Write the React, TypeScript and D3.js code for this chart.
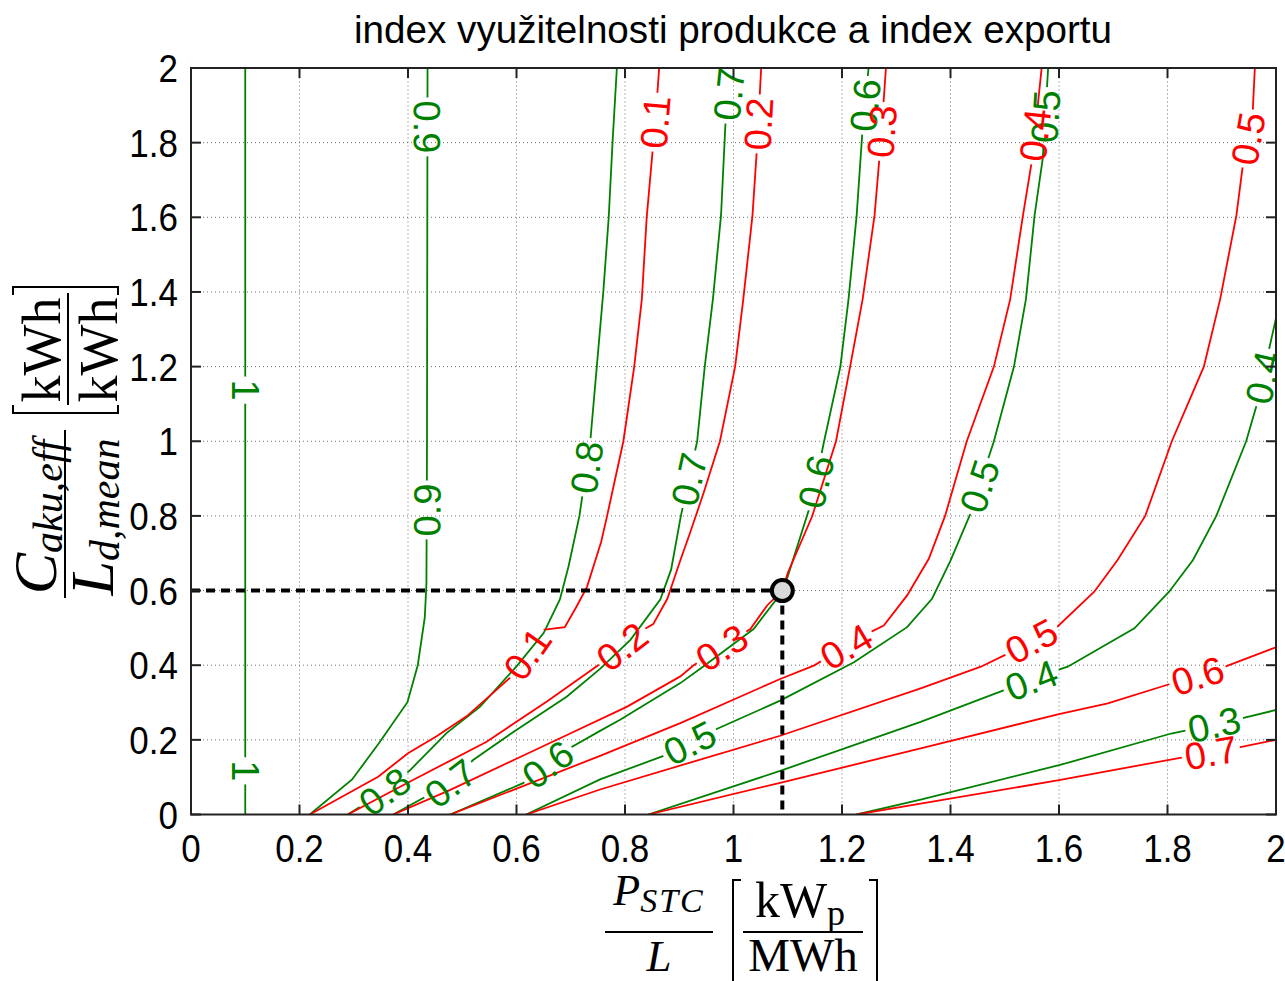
import React from "react";
import * as d3 from "d3";

const title = "index využitelnosti produkce a index exportu";
const tickValues = [0, 0.2, 0.4, 0.6, 0.8, 1, 1.2, 1.4, 1.6, 1.8, 2];
const tickLabels = ["0", "0.2", "0.4", "0.6", "0.8", "1", "1.2", "1.4", "1.6", "1.8", "2"];

// index využitelnosti produkce (green contours)
const greenLevels = ["1", "0.9", "0.8", "0.7", "0.6", "0.5", "0.4", "0.3"];
const greenCurves = [
  [[0.1, 0], [0.1, 2]],
  [[0.219, 0], [0.297, 0.094], [0.347, 0.192], [0.399, 0.301], [0.418, 0.4], [0.431, 0.529], [0.434, 0.62], [0.435, 1.0], [0.436, 2]],
  [[0.289, 0], [0.357, 0.062], [0.404, 0.119], [0.471, 0.218], [0.533, 0.289], [0.6, 0.397], [0.65, 0.486], [0.68, 0.576], [0.696, 0.665], [0.716, 0.8], [0.736, 1.0], [0.748, 1.2], [0.76, 1.4], [0.77, 1.6], [0.777, 1.8], [0.785, 2]],
  [[0.373, 0], [0.478, 0.084], [0.52, 0.146], [0.595, 0.222], [0.693, 0.316], [0.754, 0.39], [0.81, 0.468], [0.865, 0.576], [0.885, 0.656], [0.903, 0.8], [0.933, 1.0], [0.947, 1.2], [0.962, 1.38], [0.977, 1.605], [0.985, 1.846], [0.996, 2]],
  [[0.478, 0], [0.612, 0.084], [0.692, 0.173], [0.754, 0.224], [0.791, 0.254], [0.902, 0.352], [0.938, 0.39], [1.037, 0.497], [1.08, 0.578], [1.09, 0.6], [1.1, 0.638], [1.145, 0.844], [1.167, 1.0], [1.197, 1.2], [1.212, 1.38], [1.227, 1.605], [1.238, 1.838], [1.249, 2]],
  [[0.618, 0], [0.754, 0.094], [0.871, 0.157], [0.969, 0.229], [1.086, 0.305], [1.222, 0.408], [1.32, 0.502], [1.366, 0.578], [1.4, 0.68], [1.435, 0.8], [1.48, 1.0], [1.517, 1.2], [1.539, 1.38], [1.555, 1.605], [1.57, 1.757], [1.58, 2]],
  [[0.843, 0], [1.086, 0.117], [1.345, 0.248], [1.499, 0.333], [1.597, 0.387], [1.616, 0.396], [1.739, 0.499], [1.803, 0.597], [1.847, 0.682], [1.89, 0.8], [1.945, 1.0], [1.964, 1.095], [2.0, 1.33]],
  [[1.227, 0], [1.345, 0.04], [1.6, 0.132], [1.807, 0.217], [1.923, 0.253], [2.0, 0.28]],
];
// inline label spots [x, y, flip]
const greenLabels = [
  [[0.1, 0.117, 1], [0.1, 1.137, 1]],
  [[0.435, 0.816, 0], [0.436, 1.842, 1]],
  [[0.357, 0.062, 0], [0.73, 0.93, 0]],
  [[0.478, 0.084, 0], [0.918, 0.898, 0], [0.99, 1.93, 0]],
  [[0.662, 0.126, 0], [1.16, 0.889, 0], [1.243, 1.9, 0]],
  [[0.92, 0.19, 0], [1.453, 0.88, 0], [1.576, 1.87, 0]],
  [[1.549, 0.36, 0], [1.978, 1.17, 0]],
  [[1.887, 0.235, 0]],
];

// index exportu (red contours)
const redLevels = ["0.1", "0.2", "0.3", "0.4", "0.5", "0.6", "0.7"];
const redCurves = [
  [[0.219, 0], [0.29, 0.057], [0.345, 0.101], [0.4, 0.164], [0.452, 0.209], [0.508, 0.263], [0.563, 0.334], [0.594, 0.374], [0.649, 0.495], [0.689, 0.502], [0.711, 0.558], [0.73, 0.61], [0.756, 0.73], [0.767, 0.8], [0.797, 1.0], [0.817, 1.2], [0.831, 1.38], [0.84, 1.6], [0.851, 1.78], [0.859, 1.92], [0.863, 2]],
  [[0.289, 0], [0.41, 0.093], [0.545, 0.195], [0.656, 0.303], [0.748, 0.397], [0.834, 0.495], [0.852, 0.51], [0.878, 0.578], [0.903, 0.685], [0.92, 0.755], [0.945, 0.862], [0.975, 1.0], [1.003, 1.2], [1.018, 1.38], [1.035, 1.605], [1.043, 1.78], [1.051, 2]],
  [[0.373, 0], [0.478, 0.066], [0.595, 0.146], [0.693, 0.213], [0.804, 0.289], [0.902, 0.37], [0.926, 0.399], [1.031, 0.497], [1.062, 0.56], [1.09, 0.6], [1.1, 0.647], [1.145, 0.799], [1.189, 1.0], [1.215, 1.2], [1.238, 1.38], [1.26, 1.605], [1.271, 1.793], [1.281, 2]],
  [[0.478, 0], [0.754, 0.157], [0.902, 0.245], [1.086, 0.363], [1.148, 0.399], [1.246, 0.484], [1.277, 0.506], [1.32, 0.587], [1.36, 0.685], [1.39, 0.8], [1.43, 1.0], [1.48, 1.2], [1.51, 1.38], [1.533, 1.6], [1.551, 1.76], [1.568, 2]],
  [[0.618, 0], [0.754, 0.067], [1.086, 0.211], [1.345, 0.338], [1.456, 0.396], [1.5, 0.427], [1.597, 0.503], [1.665, 0.597], [1.708, 0.682], [1.759, 0.8], [1.808, 1.0], [1.867, 1.2], [1.897, 1.38], [1.927, 1.605], [1.938, 1.73], [1.957, 1.88], [1.961, 2]],
  [[0.843, 0], [1.086, 0.085], [1.345, 0.177], [1.6, 0.269], [1.69, 0.298], [1.803, 0.349], [1.899, 0.392], [2.0, 0.448]],
  [[1.227, 0], [1.345, 0.029], [1.6, 0.092], [1.831, 0.154], [1.923, 0.177], [2.0, 0.2]],
];
const redLabels = [
  [[0.62, 0.43, 0], [0.855, 1.855, 0]],
  [[0.8, 0.44, 0], [1.046, 1.85, 0]],
  [[0.978, 0.448, 0], [1.274, 1.83, 0]],
  [[1.21, 0.445, 0], [1.558, 1.82, 0]],
  [[1.549, 0.465, 0], [1.952, 1.81, 0]],
  [[1.856, 0.37, 0]],
  [[1.88, 0.165, 0]],
];

// highlighted operating point
const markX = 1.09;
const markY = 0.6;

const GREEN = "#008000";
const RED = "#ff0000";
const LABEL_SIZE = 38;

type P = [number, number];

function textWidth(s: string) {
  let w = 0;
  for (const ch of s) w += ch === "." ? 0.278 : 0.556;
  return w * LABEL_SIZE;
}

function along(px: P[], cum: number[], s: number): P {
  const total = cum[cum.length - 1];
  s = Math.max(0, Math.min(total, s));
  let i = 1;
  while (i < cum.length - 1 && cum[i] < s) i++;
  const t = (s - cum[i - 1]) / (cum[i] - cum[i - 1] || 1);
  return [px[i - 1][0] + t * (px[i][0] - px[i - 1][0]), px[i - 1][1] + t * (px[i][1] - px[i - 1][1])];
}

// put a label on the polyline nearest to target, turned along the line
function placeLabel(px: P[], target: P, half: number, flip: boolean) {
  const cum = [0];
  for (let i = 1; i < px.length; i++) cum.push(cum[i - 1] + Math.hypot(px[i][0] - px[i - 1][0], px[i][1] - px[i - 1][1]));
  let bestD = Infinity;
  let bestS = 0;
  for (let i = 1; i < px.length; i++) {
    const [ax, ay] = px[i - 1];
    const [bx, by] = px[i];
    const dx = bx - ax, dy = by - ay;
    const l2 = dx * dx + dy * dy || 1;
    let t = ((target[0] - ax) * dx + (target[1] - ay) * dy) / l2;
    t = Math.max(0, Math.min(1, t));
    const d = Math.hypot(target[0] - (ax + t * dx), target[1] - (ay + t * dy));
    if (d < bestD) {
      bestD = d;
      bestS = cum[i - 1] + t * Math.sqrt(l2);
    }
  }
  const a = along(px, cum, bestS - half);
  const b = along(px, cum, bestS + half);
  const c = along(px, cum, bestS);
  let ang = (Math.atan2(b[1] - a[1], b[0] - a[0]) * 180) / Math.PI;
  if (flip) ang += 180;
  return { x: c[0], y: c[1], ang };
}

export default function App() {
  const width = 1285;
  const height = 981;
  const x = d3.scaleLinear().domain([0, 2]).range([191, 1276]);
  const y = d3.scaleLinear().domain([0, 2]).range([814.5, 68]);
  const line = d3.line<number[]>().x((d) => x(d[0])).y((d) => y(d[1]));

  const series = [
    ...greenCurves.map((c, i) => ({ id: "g" + i, pts: c, text: greenLevels[i], spots: greenLabels[i], color: GREEN })),
    ...redCurves.map((c, i) => ({ id: "r" + i, pts: c, text: redLevels[i], spots: redLabels[i], color: RED })),
  ].map((s) => {
    const px = s.pts.map((p) => [x(p[0]), y(p[1])] as P);
    const w = textWidth(s.text);
    const labs = s.spots.map((l) => placeLabel(px, [x(l[0]), y(l[1])], w / 2 + 3, l[2] === 1));
    return { ...s, w, labs };
  });

  const [x0, x1] = x.range();
  const [y0, y1] = y.range();
  const sans = "'Liberation Sans', Arial, Helvetica, sans-serif";
  const serif = "'Liberation Serif', 'Times New Roman', serif";

  return (
    <svg width={width} height={height} style={{ position: "absolute", left: 0, top: 0, background: "#fff" }}>
      <defs>
        <clipPath id="plot">
          <rect x={x0} y={y1} width={x1 - x0} height={y0 - y1} />
        </clipPath>
        {series.map((s) => (
          <mask key={s.id} id={"m-" + s.id} maskUnits="userSpaceOnUse" x={0} y={0} width={width} height={height}>
            <rect x={0} y={0} width={width} height={height} fill="#fff" />
            {s.labs.map((l, j) => (
              <rect key={j} x={-(s.w + 6) / 2} y={-15} width={s.w + 6} height={30} fill="#000"
                transform={`translate(${l.x},${l.y}) rotate(${l.ang})`} />
            ))}
          </mask>
        ))}
      </defs>
      <rect x={0} y={0} width={width} height={height} fill="#fff" />

      {/* grid */}
      <g stroke="#707070" strokeWidth={1} strokeDasharray="1,3">
        {tickValues.map((t) => (
          <line key={"gx" + t} x1={x(t)} x2={x(t)} y1={y0} y2={y1} />
        ))}
        {tickValues.map((t) => (
          <line key={"gy" + t} x1={x0} x2={x1} y1={y(t)} y2={y(t)} />
        ))}
      </g>

      {/* contours */}
      <g clipPath="url(#plot)">
        {series.map((s) => (
          <path key={s.id} d={line(s.pts) || ""} fill="none" stroke={s.color} strokeWidth={1.8}
            mask={`url(#m-${s.id})`} />
        ))}
        {series.map((s) =>
          s.labs.map((l, j) => (
            <text key={s.id + j} transform={`translate(${l.x},${l.y}) rotate(${l.ang})`} textAnchor="middle"
              dy="0.36em" fontFamily={sans} fontSize={LABEL_SIZE} fill={s.color}>
              {s.text}
            </text>
          ))
        )}
      </g>

      {/* guide lines to the operating point */}
      <g stroke="#000" strokeWidth={4} strokeDasharray="9,6" fill="none">
        <line x1={x0} x2={x(markX)} y1={y(markY)} y2={y(markY)} />
        <line x1={x(markX)} x2={x(markX)} y1={y(markY)} y2={y0} />
      </g>
      <circle cx={x(markX)} cy={y(markY)} r={10.5} fill="#d9d9d9" stroke="#000" strokeWidth={4} />

      {/* axes box and ticks */}
      <rect x={x0} y={y1} width={x1 - x0} height={y0 - y1} fill="none" stroke="#222" strokeWidth={2} />
      <g stroke="#222" strokeWidth={2}>
        {tickValues.map((t) => (
          <g key={"t" + t}>
            <line x1={x(t)} x2={x(t)} y1={y0} y2={y0 - 10} />
            <line x1={x(t)} x2={x(t)} y1={y1} y2={y1 + 10} />
            <line x1={x0} x2={x0 + 10} y1={y(t)} y2={y(t)} />
            <line x1={x1} x2={x1 - 10} y1={y(t)} y2={y(t)} />
          </g>
        ))}
      </g>
      <g fontFamily={sans} fontSize={35} fill="#000">
        {tickValues.map((t, i) => (
          <text key={"xl" + t} transform={`translate(${x(t)},862) scale(1,1.12)`} textAnchor="middle">{tickLabels[i]}</text>
        ))}
        {tickValues.map((t, i) => (
          <text key={"yl" + t} transform={`translate(178,${y(t) + 14}) scale(1,1.12)`} textAnchor="end">{tickLabels[i]}</text>
        ))}
      </g>

      {/* title */}
      <text x={733} y={43} textAnchor="middle" fontFamily={sans} fontSize={38} textLength={758}
        lengthAdjust="spacingAndGlyphs">{title}</text>

      {/* y label */}
      <g transform="translate(0,441) rotate(-90)" fontFamily={serif} fill="#000">
        <text x={-76} y={56} textAnchor="middle" fontStyle="italic" fontSize={62}>
          C<tspan fontSize={42} dy={6}>aku,eff</tspan>
        </text>
        <line x1={-157} x2={11} y1={65} y2={65} stroke="#000" strokeWidth={2} />
        <text x={-76} y={113} textAnchor="middle" fontStyle="italic" fontSize={62}>
          L<tspan fontSize={42} dy={6}>d,mean</tspan>
        </text>
        <path d="M36,13 L28,13 L28,118 L36,118" fill="none" stroke="#000" strokeWidth={2} />
        <text x={91} y={60} textAnchor="middle" fontSize={54}>kWh</text>
        <line x1={36} x2={148} y1={68} y2={68} stroke="#000" strokeWidth={2} />
        <text x={91} y={117} textAnchor="middle" fontSize={54}>kWh</text>
        <path d="M146,13 L154,13 L154,118 L146,118" fill="none" stroke="#000" strokeWidth={2} />
      </g>

      {/* x label */}
      <g fontFamily={serif} fill="#000">
        <text x={659} y={905} textAnchor="middle" fontStyle="italic" fontSize={44}>
          P<tspan fontSize={34} dy={7} letterSpacing={2}>STC</tspan>
        </text>
        <line x1={605} x2={713} y1={932} y2={932} stroke="#000" strokeWidth={2} />
        <text x={659} y={971} textAnchor="middle" fontStyle="italic" fontSize={45}>L</text>
        <path d="M741,880 L733,880 L733,995 L741,995" fill="none" stroke="#000" strokeWidth={2} />
        <text x={800} y={917} textAnchor="middle" fontSize={50}>
          kW<tspan fontSize={36} dy={8}>p</tspan>
        </text>
        <line x1={743} x2={863} y1={932} y2={932} stroke="#000" strokeWidth={2} />
        <text x={803} y={971} textAnchor="middle" fontSize={47}>MWh</text>
        <path d="M869,880 L877,880 L877,995 L869,995" fill="none" stroke="#000" strokeWidth={2} />
      </g>
    </svg>
  );
}
